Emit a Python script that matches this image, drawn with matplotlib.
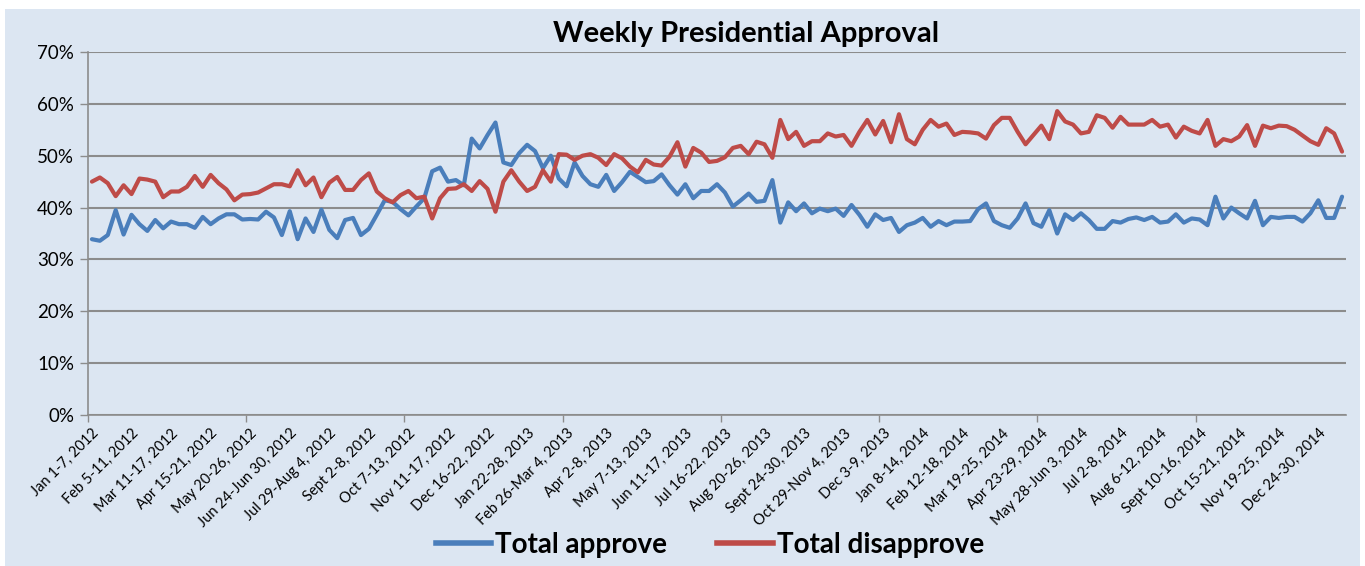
import matplotlib
matplotlib.use("Agg")
import matplotlib.pyplot as plt
from matplotlib.lines import Line2D
from matplotlib.patches import Rectangle
import numpy as np

# tick labels shown every 5th week
week_labels = [
    "Jan 1-7, 2012", "Feb 5-11, 2012", "Mar 11-17, 2012", "Apr 15-21, 2012",
    "May 20-26, 2012", "Jun 24-Jun 30, 2012", "Jul 29-Aug 4, 2012", "Sept 2-8, 2012",
    "Oct 7-13, 2012", "Nov 11-17, 2012", "Dec 16-22, 2012", "Jan 22-28, 2013",
    "Feb 26-Mar 4, 2013", "Apr 2-8, 2013", "May 7-13, 2013", "Jun 11-17, 2013",
    "Jul 16-22, 2013", "Aug 20-26, 2013", "Sept 24-30, 2013", "Oct 29-Nov 4, 2013",
    "Dec 3-9, 2013", "Jan 8-14, 2014", "Feb 12-18, 2014", "Mar 19-25, 2014",
    "Apr 23-29, 2014", "May 28-Jun 3, 2014", "Jul 2-8, 2014", "Aug 6-12, 2014",
    "Sept 10-16, 2014", "Oct 15-21, 2014", "Nov 19-25, 2014", "Dec 24-30, 2014",
]

# weekly values, percent
approve = [
    33.9, 33.6, 34.7, 39.5, 34.8, 38.6, 36.8, 35.5, 37.6, 36.0,
    37.3, 36.8, 36.8, 36.1, 38.2, 36.8, 37.9, 38.7, 38.7, 37.7,
    37.8, 37.7, 39.2, 38.1, 34.7, 39.3, 33.9, 37.9, 35.3, 39.6,
    35.7, 34.1, 37.6, 38.0, 34.7, 35.9, 38.6, 41.4, 41.1, 39.7,
    38.5, 40.2, 41.8, 47.0, 47.7, 45.0, 45.3, 44.3, 53.3, 51.4,
    54.0, 56.4, 48.7, 48.2, 50.5, 52.1, 50.9, 47.6, 50.0, 45.6,
    44.1, 48.7, 46.1, 44.5, 44.0, 46.3, 43.2, 44.9, 46.9, 45.9,
    44.9, 45.1, 46.4, 44.3, 42.5, 44.5, 41.8, 43.2, 43.2, 44.5,
    42.9, 40.2, 41.4, 42.7, 41.1, 41.3, 45.3, 37.1, 41.0, 39.3,
    40.8, 38.9, 39.8, 39.3, 39.8, 38.4, 40.5, 38.6, 36.3, 38.7,
    37.6, 38.0, 35.3, 36.6, 37.1, 38.0, 36.3, 37.4, 36.6, 37.3,
    37.3, 37.4, 39.7, 40.8, 37.4, 36.6, 36.1, 37.9, 40.8, 37.0,
    36.3, 39.5, 35.0, 38.7, 37.6, 38.9, 37.6, 35.9, 35.9, 37.4,
    37.1, 37.8, 38.1, 37.6, 38.2, 37.1, 37.3, 38.7, 37.1, 37.9,
    37.7, 36.6, 42.1, 37.9, 40.0, 38.9, 37.9, 41.3, 36.6, 38.2,
    38.0, 38.2, 38.2, 37.3, 38.9, 41.4, 38.0, 38.0, 42.1,
]

disapprove = [
    45.0, 45.8, 44.7, 42.2, 44.3, 42.6, 45.6, 45.4, 45.0, 42.0,
    43.1, 43.1, 44.0, 46.1, 44.0, 46.3, 44.7, 43.5, 41.4, 42.5,
    42.6, 42.9, 43.7, 44.5, 44.5, 44.1, 47.2, 44.3, 45.8, 42.0,
    44.8, 45.9, 43.4, 43.4, 45.3, 46.6, 43.1, 41.8, 41.0, 42.4,
    43.2, 41.8, 42.1, 37.9, 41.8, 43.6, 43.7, 44.5, 43.2, 45.1,
    43.6, 39.2, 45.0, 47.2, 45.0, 43.2, 44.0, 47.2, 45.0, 50.3,
    50.2, 49.2, 50.0, 50.3, 49.6, 48.2, 50.3, 49.5, 47.9, 46.8,
    49.2, 48.3, 48.1, 49.8, 52.6, 47.9, 51.5, 50.6, 48.8, 49.0,
    49.7, 51.5, 51.9, 50.3, 52.7, 52.2, 49.6, 56.9, 53.2, 54.6,
    51.9, 52.8, 52.8, 54.3, 53.7, 54.0, 51.9, 54.6, 56.9, 54.1,
    56.7, 52.6, 58.0, 53.2, 52.2, 55.0, 56.9, 55.6, 56.2, 54.0,
    54.6, 54.5, 54.3, 53.3, 55.9, 57.3, 57.3, 54.6, 52.2, 54.0,
    55.8, 53.2, 58.6, 56.6, 56.0, 54.3, 54.6, 57.8, 57.3, 55.4,
    57.5, 56.0, 56.0, 56.0, 56.9, 55.6, 56.0, 53.5, 55.6, 54.8,
    54.3, 56.9, 51.9, 53.2, 52.8, 53.7, 55.9, 51.9, 55.8, 55.3,
    55.8, 55.7, 55.0, 53.9, 52.8, 52.1, 55.3, 54.3, 50.8,
]

BG = "#dce6f2"
BLUE = "#4a7ebb"
RED = "#be4b48"
GRID = "#8c8c8c"

plt.rcParams["font.family"] = ["Lato", "DejaVu Sans"]

W, H = 1365, 566
fig = plt.figure(figsize=(W / 100, H / 100), dpi=100, facecolor="white")
fig.patches.append(Rectangle((5 / W, 0), 1355 / W, 1 - 9 / H, transform=fig.transFigure,
                             facecolor=BG, edgecolor="none", zorder=-10))

ax = fig.add_axes([88 / W, 1 - 415 / H, (1346 - 88) / W, (415 - 52) / H])
ax.set_facecolor(BG)

x = np.arange(len(approve))
ax.plot(x, approve, color=BLUE, lw=3.0, solid_joinstyle="round", solid_capstyle="round")
ax.plot(x, disapprove, color=RED, lw=3.0, solid_joinstyle="round", solid_capstyle="round")

ax.set_xlim(-0.5, len(approve) - 0.5)
ax.set_ylim(0, 70)
ax.set_yticks(np.arange(0, 71, 10))
ax.set_yticklabels([f"{v}%" for v in range(0, 71, 10)], fontsize=13.5)
ax.yaxis.grid(True, color=GRID, lw=1.5)
ax.set_axisbelow(True)
ax.tick_params(axis="y", length=6, width=1, color=GRID, pad=4)

ax.set_xticks(np.arange(0, len(week_labels) * 5, 5))
ax.set_xticklabels(week_labels, rotation=45, ha="right", rotation_mode="anchor", fontsize=10.5)
ax.tick_params(axis="x", which="major", length=0, pad=8)
ax.set_xticks(np.arange(-0.5, len(approve), 20), minor=True)
ax.tick_params(axis="x", which="minor", length=5, width=1, color=GRID, direction="out")

for side in ("top", "right"):
    ax.spines[side].set_visible(False)
for side in ("left", "bottom"):
    ax.spines[side].set_color(GRID)
    ax.spines[side].set_linewidth(1.2)

fig.text(746 / W, 1 - 34 / H, "Weekly Presidential Approval", ha="center", va="center",
         fontsize=21, fontweight="bold")

handles = [Line2D([], [], color=BLUE, lw=4), Line2D([], [], color=RED, lw=4)]
fig.legend(handles, ["Total approve", "Total disapprove"], loc="center",
           bbox_to_anchor=(710 / W, 1 - 545 / H), ncol=2, frameon=False,
           prop={"weight": "bold", "size": 20}, handlelength=2.0, handletextpad=0.15,
           columnspacing=1.8)

fig.savefig("out.png", dpi=100, facecolor=fig.get_facecolor())
